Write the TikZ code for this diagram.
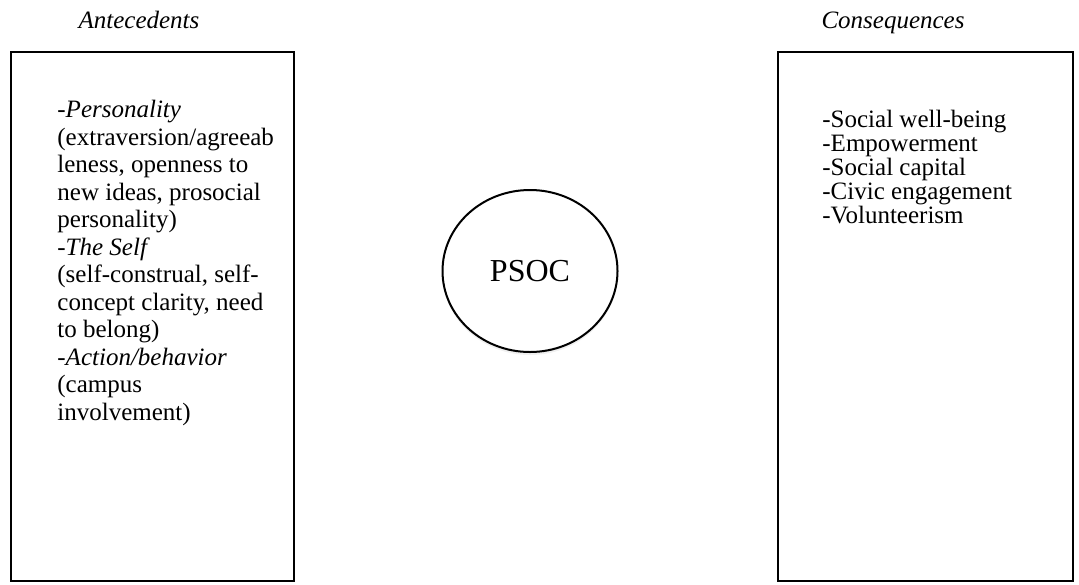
\documentclass[tikz,border=0pt]{standalone}
\usepackage{fontspec}
\setmainfont{Liberation Serif}
\usetikzlibrary{positioning,shapes.geometric,shadows}

\begin{document}
\begin{tikzpicture}[x=0.5pt, y=-0.5pt,
        panel/.style={draw=black, line width=1.3pt, minimum height=264.5pt, inner sep=0pt},
        head/.style={font=\fontsize{12.5}{13.75}\selectfont\itshape, inner sep=0pt, anchor=base},
        items/.style={font=\fontsize{12.5}{13.75}\selectfont, align=left, inner sep=0pt, anchor=north west},
        centre/.style={ellipse, draw=black, fill=white, line width=1pt, minimum width=87.5pt, minimum height=81pt,
            font=\fontsize{16}{18}\selectfont, drop shadow={opacity=0.12, shadow xshift=0pt, shadow yshift=-1.5pt}}]

        \useasboundingbox (0,0) rectangle (1079,584);

        \node[panel, minimum width=141.5pt] (ante) at (152.5,316.5) {};
        \node[panel, minimum width=147.5pt] (cons) at (925.5,316.5) {};

        \node[head] (antehead) at (139,28) {Antecedents};
        \node[head] (conshead) at (893,28) {Consequences};

        \node[items] (antelist) at (57,100) {-\textit{Personality}\\(extraversion/agreeab\\leness, openness to\\new ideas, prosocial\\personality)\\-\textit{The Self}\\(self-construal, self-\\concept clarity, need\\to belong)\\-\textit{Action/behavior}\\(campus\\involvement)};
        \node[items, font=\fontsize{12.5}{12}\selectfont] (conslist) at (822,110) {-Social well-being\\-Empowerment\\-Social capital\\-Civic engagement\\-Volunteerism};

        \node[centre] (psoc) at (530,271) {PSOC};

\end{tikzpicture}
\end{document}
